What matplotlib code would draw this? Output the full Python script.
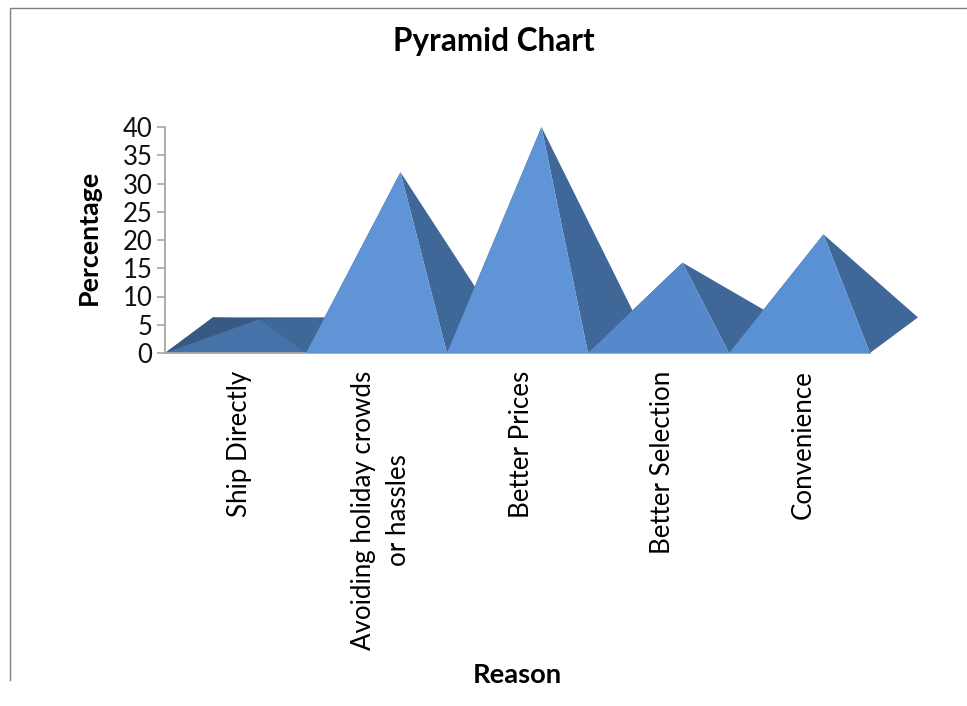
#!/usr/bin/env python3
"""Pyramid Chart - 3D looking pyramids drawn as flat polygons"""
import matplotlib
matplotlib.use("Agg")
import matplotlib.pyplot as plt
from matplotlib.lines import Line2D
from matplotlib.transforms import ScaledTranslation

plt.rcParams["font.family"] = ["Lato", "DejaVu Sans"]

# data
reasons = ["Ship Directly", "Avoiding holiday crowds\nor hassles", "Better Prices",
           "Better Selection", "Convenience"]
values = [6, 32, 40, 16, 21]

# face colours
front_colors = ["#4573A9", "#5F95D7", "#5F95D7", "#5589CB", "#5A90D4"]
left_color = "#375A85"
right_color = "#3F6798"
GREY = "#A6A6A6"

# depth of the fake 3D floor, in data units
DEPTH_X = 0.34
DEPTH_Y = 6.3

fig = plt.figure(figsize=(9.67, 7.06), dpi=100)
ax = fig.add_axes([165 / 967, 1 - 353 / 706, 705 / 967, 226 / 706])

for i, v in enumerate(values):
    x0, x1 = i, i + 1
    apex = (i + 0.5 + DEPTH_X / 2, v)
    back_l = (x0 + DEPTH_X, DEPTH_Y)
    back_r = (x1 + DEPTH_X, DEPTH_Y)
    z = 2 + i
    # floor only shows behind the low pyramid
    if v < DEPTH_Y + 1:
        ax.fill(*zip((x0, 0), back_l, back_r, (x1, 0)), color=left_color, lw=0, zorder=z, clip_on=False)
    ax.fill(*zip((x0, 0), back_l, apex), color=left_color, lw=0, zorder=z, clip_on=False)
    ax.fill(*zip((x1, 0), back_r, apex), color=right_color, lw=0, zorder=z, clip_on=False)
    ax.fill(*zip((x0, 0), (x1, 0), apex), color=front_colors[i], lw=0, zorder=z, clip_on=False)

ax.set_xlim(0, 5)
ax.set_ylim(0, 40)
ax.set_yticks(range(0, 45, 5))
ax.set_xticks([i + 0.5 for i in range(len(reasons))])
ax.set_xticklabels(reasons, rotation=90, ma="center", fontsize=18.6, linespacing=1.5)
ax.tick_params(axis="x", length=0, pad=12.5)
ax.tick_params(axis="y", length=6, width=1.2, color=GREY, labelsize=18.5, pad=3, labelcolor="#111111")

# labels sit a few pixels right of the category centre
shift = ScaledTranslation(4 / 100, 0, fig.dpi_scale_trans)
for lbl in ax.get_xticklabels():
    lbl.set_transform(lbl.get_transform() + shift)

for s in ["top", "right"]:
    ax.spines[s].set_visible(False)
for s in ["left", "bottom"]:
    ax.spines[s].set_color(GREY)
    ax.spines[s].set_linewidth(1.3)

fig.text(494 / 967, 1 - 42 / 706, "Pyramid Chart", ha="center", va="center", fontsize=22.7, fontweight="bold")
fig.text(89 / 967, 1 - 237 / 706, "Percentage", ha="center", va="center", rotation=90, fontsize=19.3, fontweight="bold")
fig.text(517 / 967, 1 - 675 / 706, "Reason", ha="center", va="center", fontsize=19.7, fontweight="bold")

# slide border, top and left only
fig.add_artist(Line2D([10 / 967, 10 / 967, 1], [1 - 680 / 706, 1 - 8 / 706, 1 - 8 / 706], color="#808080", lw=1))

fig.savefig("out.png", dpi=100)
